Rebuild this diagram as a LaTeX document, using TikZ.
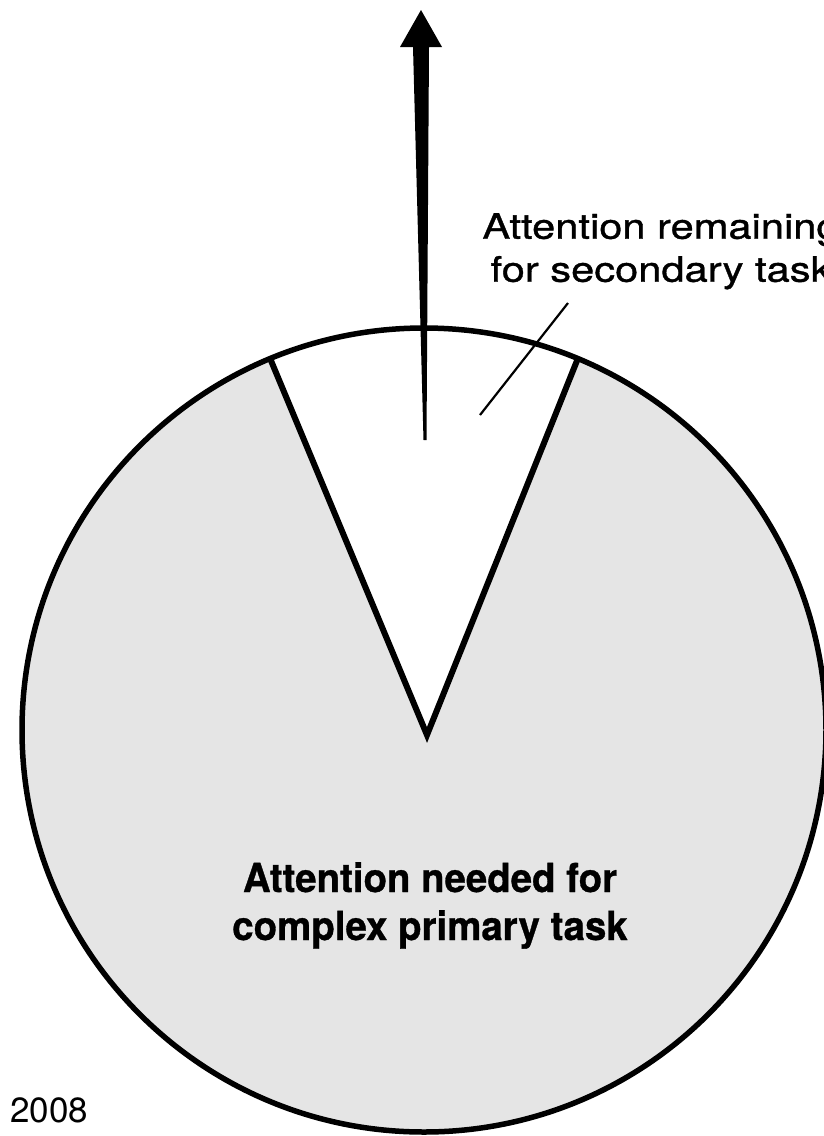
\documentclass[tikz,border=0pt]{standalone}
\usepackage{fontspec}
\usetikzlibrary{calc}
\setmainfont{TeX Gyre Heros}
\newfontfamily\widesans[FakeStretch=1.19, FakeBold=1]{TeX Gyre Heros}
\newfontfamily\heavysans[FakeStretch=0.96, FakeBold=0.8]{TeX Gyre Heros}

\begin{document}
\begin{tikzpicture}[
    x=1pt, y=-1pt,
    pie/.style={line width=5.5pt, fill=black!10},
    wedgeline/.style={line width=6pt, line join=miter},
    leader/.style={line width=2.2pt},
    note/.style={
        font=\widesans\fontsize{35}{43}\selectfont,
        align=center, inner sep=0pt, anchor=north
    },
    bignote/.style={
        font=\heavysans\bfseries\fontsize{40}{48}\selectfont,
        align=center, inner sep=0pt, anchor=north
    },
    year/.style={font=\fontsize{35}{42}\selectfont, inner sep=0pt, anchor=base west}
]

\useasboundingbox (0,0) rectangle (824,1136);
\fill[white] (0,0) rectangle (824,1136);
\clip (0,0) rectangle (824,1136);

%% ─── KEY POINTS ──────────────────────────────────────────────
\coordinate (center)   at (424,730);
\coordinate (apex)     at (427,735);
\coordinate (wedgeL)   at ($(center)+(-112.5:402)$);
\coordinate (wedgeR)   at ($(center)+(-67.5:402)$);
\coordinate (arrowfoot) at (425,440);
\coordinate (arrowtip) at (421,10);
\coordinate (leadtop)  at (568,303);
\coordinate (leadend)  at (480,415);

%% ─── ATTENTION PIE ───────────────────────────────────────────
\fill[black!10] (center) circle[radius=402];
% spare attention (white slice)
\fill[white] (apex) -- (wedgeR)
    arc[start angle=-67.5, end angle=-112.5, radius=402] -- cycle;
\draw[pie, fill=none] (center) circle[radius=402];
\draw[wedgeline] (wedgeL) -- (apex) -- (wedgeR);

%% ─── ARROW (tapered) ─────────────────────────────────────────
\fill ($(arrowfoot)+(-1.5,0)$) -- (413,47) -- (400,47) -- (arrowtip)
    -- (442,47) -- (429,47) -- ($(arrowfoot)+(1.5,0)$) -- cycle;

%% ─── LABELS ──────────────────────────────────────────────────
\node[note] (secondary) at (661,213) {Attention remaining\\for secondary task};
\draw[leader] (leadtop) -- (leadend);

\node[bignote] (primary) at (430,862) {Attention needed for\\complex primary task};

\node[year] (yearlabel) at (10,1122) {2008};

\end{tikzpicture}
\end{document}
